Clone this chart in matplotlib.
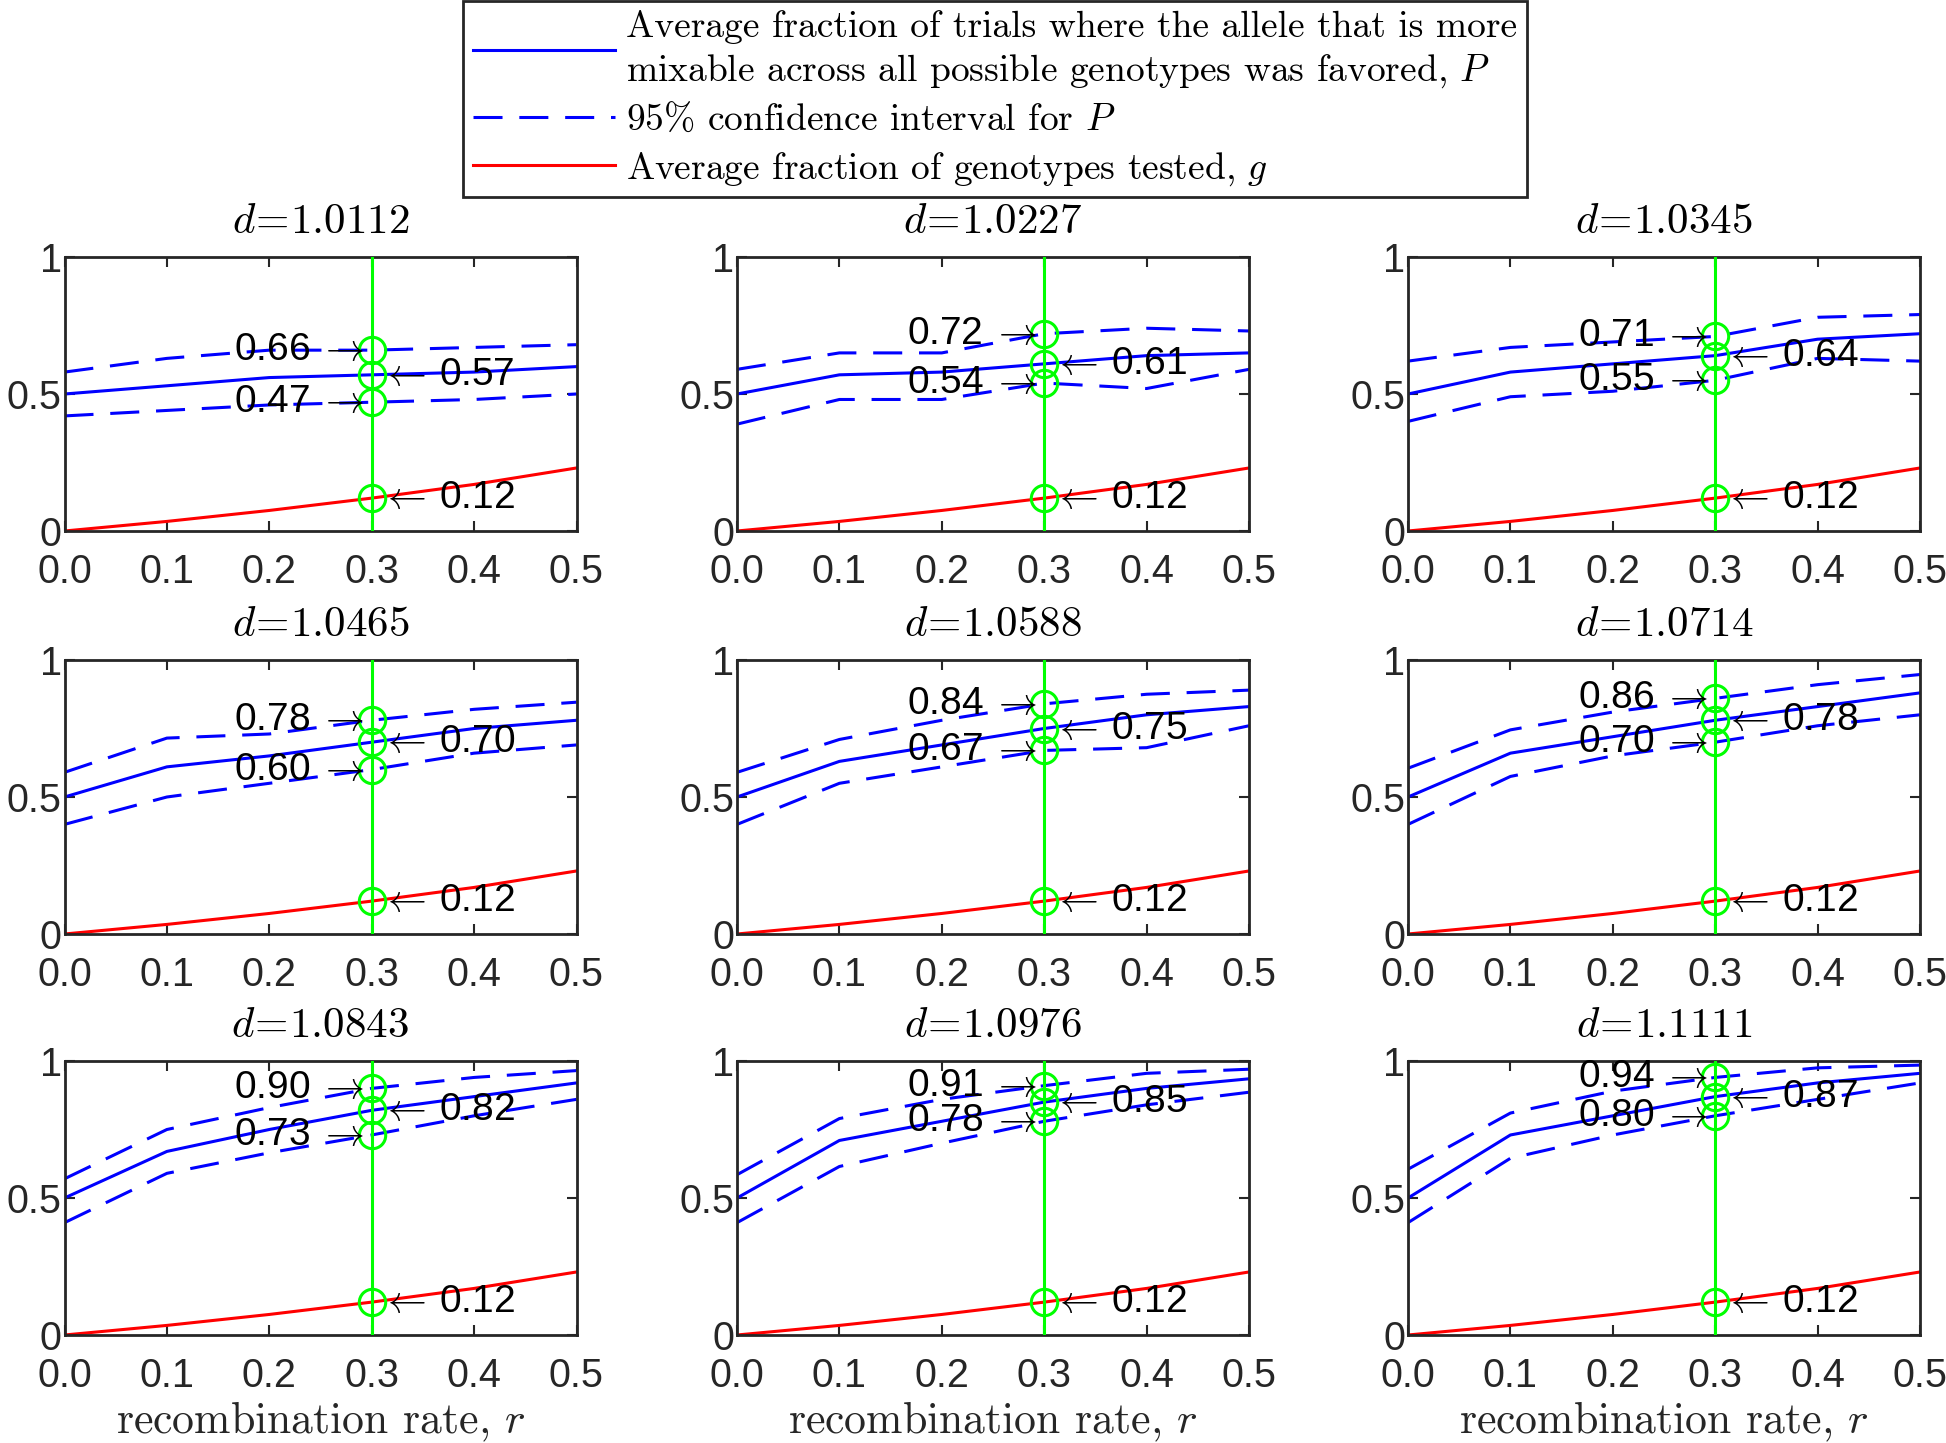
import matplotlib
matplotlib.use('Agg')
import matplotlib.pyplot as plt
from matplotlib.lines import Line2D

plt.rcParams['mathtext.fontset'] = 'cm'
plt.rcParams['font.family'] = ['Liberation Sans', 'DejaVu Sans']

# ---------------- data ----------------
r = [0.0, 0.1, 0.2, 0.3, 0.4, 0.5]
r_mark = 0.3
d_labels = ['1.0112', '1.0227', '1.0345',
            '1.0465', '1.0588', '1.0714',
            '1.0843', '1.0976', '1.1111']

P_mean = [
    [0.50, 0.53, 0.56, 0.57, 0.58, 0.60],
    [0.50, 0.57, 0.58, 0.61, 0.64, 0.65],
    [0.50, 0.58, 0.61, 0.64, 0.70, 0.72],
    [0.50, 0.61, 0.65, 0.70, 0.75, 0.78],
    [0.50, 0.63, 0.69, 0.75, 0.80, 0.83],
    [0.50, 0.66, 0.72, 0.78, 0.83, 0.88],
    [0.50, 0.67, 0.75, 0.82, 0.87, 0.92],
    [0.50, 0.71, 0.78, 0.85, 0.90, 0.935],
    [0.50, 0.73, 0.80, 0.87, 0.92, 0.955],
]
P_upper = [
    [0.58, 0.63, 0.66, 0.66, 0.67, 0.68],
    [0.59, 0.65, 0.65, 0.72, 0.74, 0.73],
    [0.62, 0.67, 0.69, 0.71, 0.78, 0.79],
    [0.59, 0.715, 0.73, 0.78, 0.82, 0.846],
    [0.59, 0.71, 0.78, 0.84, 0.875, 0.89],
    [0.605, 0.745, 0.81, 0.86, 0.91, 0.947],
    [0.57, 0.75, 0.83, 0.90, 0.94, 0.965],
    [0.585, 0.79, 0.86, 0.91, 0.955, 0.97],
    [0.605, 0.81, 0.89, 0.94, 0.975, 0.985],
]
P_lower = [
    [0.42, 0.44, 0.46, 0.47, 0.48, 0.50],
    [0.39, 0.48, 0.48, 0.54, 0.52, 0.59],
    [0.40, 0.49, 0.51, 0.55, 0.63, 0.62],
    [0.40, 0.50, 0.55, 0.60, 0.66, 0.69],
    [0.40, 0.55, 0.61, 0.67, 0.68, 0.76],
    [0.40, 0.575, 0.65, 0.70, 0.76, 0.80],
    [0.41, 0.59, 0.665, 0.73, 0.80, 0.86],
    [0.41, 0.615, 0.70, 0.78, 0.84, 0.886],
    [0.41, 0.645, 0.73, 0.80, 0.86, 0.92],
]
g_mean = [0.0, 0.035, 0.075, 0.12, 0.17, 0.23]

x_ticks = [0.0, 0.1, 0.2, 0.3, 0.4, 0.5]
x_ticklabels = ['0.0', '0.1', '0.2', '0.3', '0.4', '0.5']
y_ticks = [0, 0.5, 1]
y_ticklabels = ['0', '0.5', '1']

legend_labels = [
    'Average fraction of trials where the allele that is more\n'
    'mixable across all possible genotypes was favored, $P$',
    '95% confidence interval for $P$',
    'Average fraction of genotypes tested, $g$',
]

# ---------------- figure ----------------
W, H = 1946, 1443
fig = plt.figure(figsize=(W / 100, H / 100), dpi=100)

col_left = [64.5, 737, 1408]
row_top = [257, 660, 1061]
ax_w, ax_h = 512, 274

BLUE = '#0000ff'
RED = '#ff0000'
GREEN = '#00ff00'
LW = 2.2
DASH = (0, (9.5, 5.5))
SERIF = ['cmr10', 'DejaVu Serif']

for i in range(9):
    row, col = divmod(i, 3)
    left = col_left[col] / W
    bottom = 1 - (row_top[row] + ax_h) / H
    ax = fig.add_axes([left, bottom, ax_w / W, ax_h / H])

    ax.plot(r, P_mean[i], color=BLUE, lw=LW, zorder=2)
    ax.plot(r, P_upper[i], color=BLUE, lw=LW, linestyle=DASH, zorder=2)
    ax.plot(r, P_lower[i], color=BLUE, lw=LW, linestyle=DASH, zorder=2)
    ax.plot(r, g_mean, color=RED, lw=LW, zorder=2)

    ax.axvline(r_mark, color=GREEN, lw=LW, zorder=3)
    k = r.index(r_mark)
    vals = [P_upper[i][k], P_mean[i][k], P_lower[i][k], g_mean[k]]
    ax.plot([r_mark] * 4, vals, linestyle='none', marker='o', ms=19,
            mfc='none', mec=GREEN, mew=LW, zorder=4)

    # left-side labels (confidence bounds)
    for v in (P_upper[i][k], P_lower[i][k]):
        ax.annotate(f'{v:.2f}' + r'$\;\rightarrow$', xy=(r_mark, v),
                    xytext=(-7, 0), textcoords='offset pixels',
                    ha='right', va='center', fontsize=28, zorder=5)
    # right-side labels (mean P and g)
    for v in (P_mean[i][k], g_mean[k]):
        ax.annotate(r'$\leftarrow\,$' + f'{v:.2f}', xy=(r_mark, v),
                    xytext=(9, 0), textcoords='offset pixels',
                    ha='left', va='center', fontsize=28, zorder=5)

    ax.set_xlim(0, 0.5)
    ax.set_ylim(0, 1)
    ax.set_xticks(x_ticks)
    ax.set_xticklabels(x_ticklabels)
    ax.set_yticks(y_ticks)
    ax.set_yticklabels(y_ticklabels)
    ax.tick_params(direction='in', top=True, right=True, length=7,
                   width=1.5, color='#262626', labelsize=28.5,
                   labelcolor='#262626')
    ax.tick_params(axis='x', pad=16)
    ax.tick_params(axis='y', pad=2)
    for s in ax.spines.values():
        s.set_linewidth(2)
        s.set_color('#262626')

    ax.set_title(r'$d\!=\!' + d_labels[i] + '$', fontsize=31, pad=17,
                 color='black')
    if row == 2:
        ax.set_xlabel('recombination rate, $r$', fontsize=31.5,
                      family=SERIF, labelpad=3, color='#262626')

handles = [
    Line2D([], [], color=BLUE, lw=LW),
    Line2D([], [], color=BLUE, lw=LW, linestyle=DASH),
    Line2D([], [], color=RED, lw=LW),
]
leg = fig.legend(handles, legend_labels, loc='upper center',
                 bbox_to_anchor=(995 / W, 1.0 - 1 / H), borderaxespad=0,
                 fancybox=False, framealpha=1, edgecolor='#262626',
                 prop={'family': SERIF, 'size': 27},
                 handlelength=3.8, handletextpad=0.3, labelspacing=0.34,
                 borderpad=0.25)
leg.get_frame().set_linewidth(2)
for t in leg.get_texts():
    t.set_linespacing(1.28)

fig.savefig('out.png', dpi=100)
